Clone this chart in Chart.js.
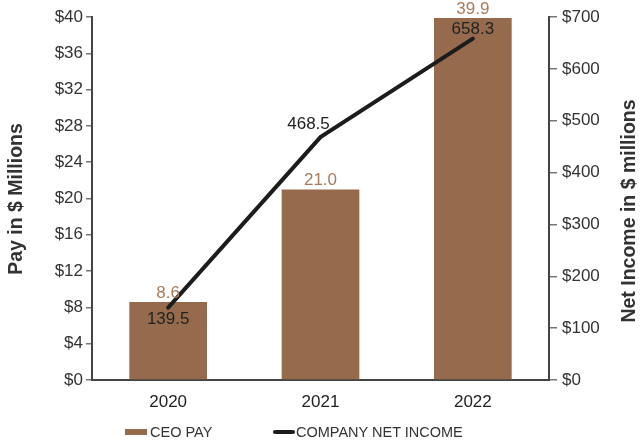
<!DOCTYPE html>
<html>
<head>
<meta charset="utf-8">
<script src="https://cdn.jsdelivr.net/npm/chart.js@4.4.1/dist/chart.umd.min.js"></script>
<style>
  html, body { margin: 0; padding: 0; background: #fff; }
  #wrap { position: relative; width: 640px; height: 443px; }
  #legend { position: absolute; top: 424px; left: 0; width: 640px; height: 16px;
    font-family: "Liberation Sans", Arial, sans-serif; font-size: 14.5px; color: #333; }
  .item { position: absolute; top: 0; display: flex; align-items: center; line-height: 16px; }
  .swatch { display: inline-block; width: 22px; height: 6px; margin-right: 3px; }
  .swatch.line { height: 4px; border-radius: 2px; margin-right: 1px; }
</style>
</head>
<body>
<div id="wrap">
  <canvas id="chart" width="640" height="443"></canvas>
  <div id="legend">
    <span class="item" style="left:125px"><span class="swatch" style="background:#966b4d"></span>CEO PAY</span>
    <span class="item" style="left:273px"><span class="swatch line" style="background:#1c1c1c"></span>COMPANY NET INCOME</span>
  </div>
</div>
<script>
const years = ["2020", "2021", "2022"];
const ceoPay = [8.6, 21.0, 39.9];
const netIncome = [139.5, 468.5, 658.3];

const BAR = "#966b4d";
const LINE = "#1c1c1c";
const FONT = "'Liberation Sans', Arial, sans-serif";

// value labels: pay above each bar, net income next to each point
const valueLabels = {
  id: "valueLabels",
  afterDatasetsDraw(chart) {
    const ctx = chart.ctx;
    ctx.save();
    ctx.font = "17px " + FONT;
    ctx.textAlign = "center";
    ctx.textBaseline = "middle";
    ctx.fillStyle = "#a67c5c";
    chart.getDatasetMeta(1).data.forEach((bar, i) => {
      ctx.fillText(ceoPay[i].toFixed(1), bar.x, bar.y - 9);
    });
    ctx.fillStyle = "#222";
    const place = ["below", "left", "above"];
    chart.getDatasetMeta(0).data.forEach((pt, i) => {
      const txt = netIncome[i].toFixed(1);
      if (place[i] === "below") {
        ctx.fillText(txt, pt.x, pt.y + 12);
      } else if (place[i] === "left") {
        ctx.fillText(txt, pt.x - 12, pt.y - 13);
      } else {
        ctx.fillText(txt, pt.x, pt.y - 9);
      }
    });
    ctx.restore();
  }
};

// both axis titles read bottom to top
const axisTitles = {
  id: "axisTitles",
  afterDraw(chart) {
    const ctx = chart.ctx;
    ctx.save();
    ctx.font = "bold 19.5px " + FONT;
    ctx.fillStyle = "#333";
    ctx.textAlign = "center";
    ctx.textBaseline = "middle";
    [[17, 199, "Pay in $ Millions"], [630, 211, "Net Income in $ millions"]].forEach(([x, y, txt]) => {
      ctx.save();
      ctx.translate(x, y);
      ctx.rotate(-Math.PI / 2);
      ctx.fillText(txt, 0, 0);
      ctx.restore();
    });
    ctx.restore();
  }
};

new Chart(document.getElementById("chart"), {
  data: {
    labels: years,
    datasets: [
      {
        type: "line",
        label: "COMPANY NET INCOME",
        data: netIncome,
        yAxisID: "yIncome",
        borderColor: LINE,
        backgroundColor: LINE,
        borderWidth: 4,
        borderCapStyle: "round",
        pointRadius: 0,
        tension: 0,
        order: 0
      },
      {
        type: "bar",
        label: "CEO PAY",
        data: ceoPay,
        yAxisID: "yPay",
        backgroundColor: BAR,
        barPercentage: 0.51,
        categoryPercentage: 1,
        order: 1
      }
    ]
  },
  options: {
    responsive: false,
    animation: false,
    layout: { padding: { top: 17, bottom: 23, left: 0, right: 0 } },
    plugins: { legend: { display: false }, tooltip: { enabled: false } },
    scales: {
      x: {
        grid: { display: false },
        border: { color: "#444", width: 2 },
        ticks: { color: "#222", font: { family: FONT, size: 17 }, padding: 4 },
        afterFit(s) { s.height = 40; }
      },
      yPay: {
        position: "left",
        min: 0, max: 40,
        ticks: { stepSize: 4, color: "#333", font: { family: FONT, size: 17 }, padding: 3,
          callback: v => "$" + v },
        grid: { drawOnChartArea: false, drawTicks: true, tickLength: 6, color: "#777", lineWidth: 1.5 },
        border: { color: "#444", width: 2 },
        afterFit(s) { s.width = 92; }
      },
      yIncome: {
        position: "right",
        min: 0, max: 700,
        ticks: { stepSize: 100, color: "#333", font: { family: FONT, size: 17 }, padding: 5,
          callback: v => "$" + v },
        grid: { drawOnChartArea: false, drawTicks: true, tickLength: 8, color: "#777", lineWidth: 1.5 },
        border: { color: "#444", width: 2 },
        afterFit(s) { s.width = 91; }
      }
    }
  },
  plugins: [valueLabels, axisTitles]
});
</script>
</body>
</html>
